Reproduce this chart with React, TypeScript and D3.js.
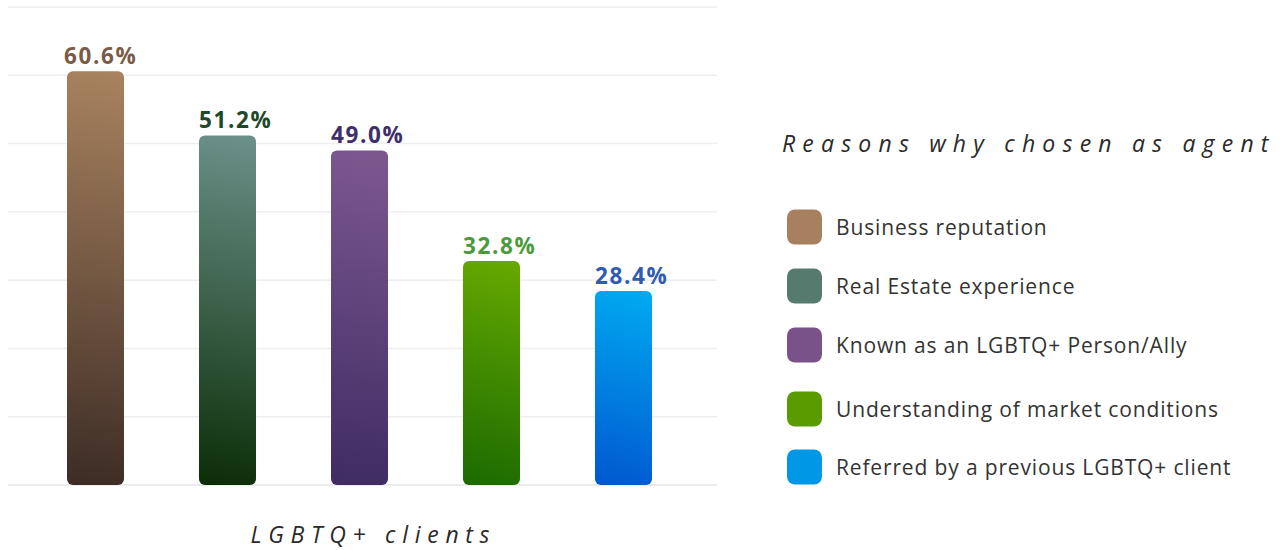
import React from "react";
import * as d3 from "d3";

const categories = [
  "Business reputation",
  "Real Estate experience",
  "Known as an LGBTQ+ Person/Ally",
  "Understanding of market conditions",
  "Referred by a previous LGBTQ+ client",
];
const values = [60.6, 51.2, 49.0, 32.8, 28.4];
const gradTop = ["#a9835f", "#6b918a", "#7d5890", "#66aa00", "#00abf2"];
const gradBottom = ["#3c2c25", "#0b2d06", "#3e2c62", "#1b6a00", "#0057cf"];
const labelColors = ["#7a5c46", "#21482a", "#3e2f6c", "#4b9b3c", "#2f5cb0"];
const legendColors = ["#a6805f", "#557a6e", "#79528a", "#5a9b00", "#0097e7"];
const gridTicks = [0, 10, 20, 30, 40, 50, 60, 70];
const legendTitle = "Reasons why chosen as agent";
const axisTitle = "LGBTQ+ clients";

const W = 1287;
const H = 550;
const FONT = "'Open Sans', 'Noto Sans', sans-serif";

export default function App() {
  const y = d3.scaleLinear().domain([0, 70]).range([485, 7]);
  const x = d3
    .scaleBand<string>()
    .domain(categories)
    .range([29.5, 689.5])
    .paddingInner(0.568)
    .paddingOuter(0.284);
  const legendY = [227, 286, 345, 409, 467];
  const bw = x.bandwidth();

  return (
    <svg
      width={W}
      height={H}
      style={{ position: "absolute", left: 0, top: 0, background: "#fff" }}
      fontFamily={FONT}
    >
      <defs>
        {categories.map((c, i) => {
          const bx = x(c)!;
          const by = y(values[i]);
          return (
            <linearGradient
              key={c}
              id={`g${i}`}
              gradientUnits="userSpaceOnUse"
              x1={bx + bw}
              y1={by}
              x2={bx}
              y2={y(0)}
            >
              <stop offset="0" stopColor={gradTop[i]} />
              <stop offset="1" stopColor={gradBottom[i]} />
            </linearGradient>
          );
        })}
      </defs>
      {gridTicks.map((t) => (
        <line
          key={t}
          x1={8}
          x2={717}
          y1={y(t)}
          y2={y(t)}
          stroke={t === 0 ? "#e6e6e6" : "#eeeeee"}
          strokeWidth={1.5}
        />
      ))}
      {categories.map((c, i) => {
        const bx = x(c)!;
        const by = y(values[i]);
        const bh = y(0) - by;
        return (
          <g key={c}>
            <rect x={bx} y={by} width={bw} height={bh} rx={6} fill={`url(#g${i})`} />
            <text
              x={i === 0 ? bx - 3 : bx}
              y={by - 7.5}
              textAnchor="start"
              fontSize={22.5}
              fontWeight={700}
              letterSpacing={1.6}
              fill={labelColors[i]}
            >
              {values[i].toFixed(1)}%
            </text>
          </g>
        );
      })}
      <text
        x={371 + 2.4}
        y={543}
        textAnchor="middle"
        fontSize={23}
        fontStyle="italic"
        letterSpacing={6.7}
        fill="#2a2a2a"
      >
        {axisTitle}
      </text>
      <text
        x={782}
        y={152}
        fontSize={23}
        fontStyle="italic"
        letterSpacing={7.2}
        fill="#2a2a2a"
      >
        {legendTitle}
      </text>
      {categories.map((c, i) => (
        <g key={c} transform={`translate(787,${legendY[i]})`}>
          <rect x={0} y={-17.5} width={35} height={35} rx={8} fill={legendColors[i]} />
          <text x={49} y={7.5} fontSize={21} letterSpacing={0.85} fill="#333">
            {c}
          </text>
        </g>
      ))}
    </svg>
  );
}
